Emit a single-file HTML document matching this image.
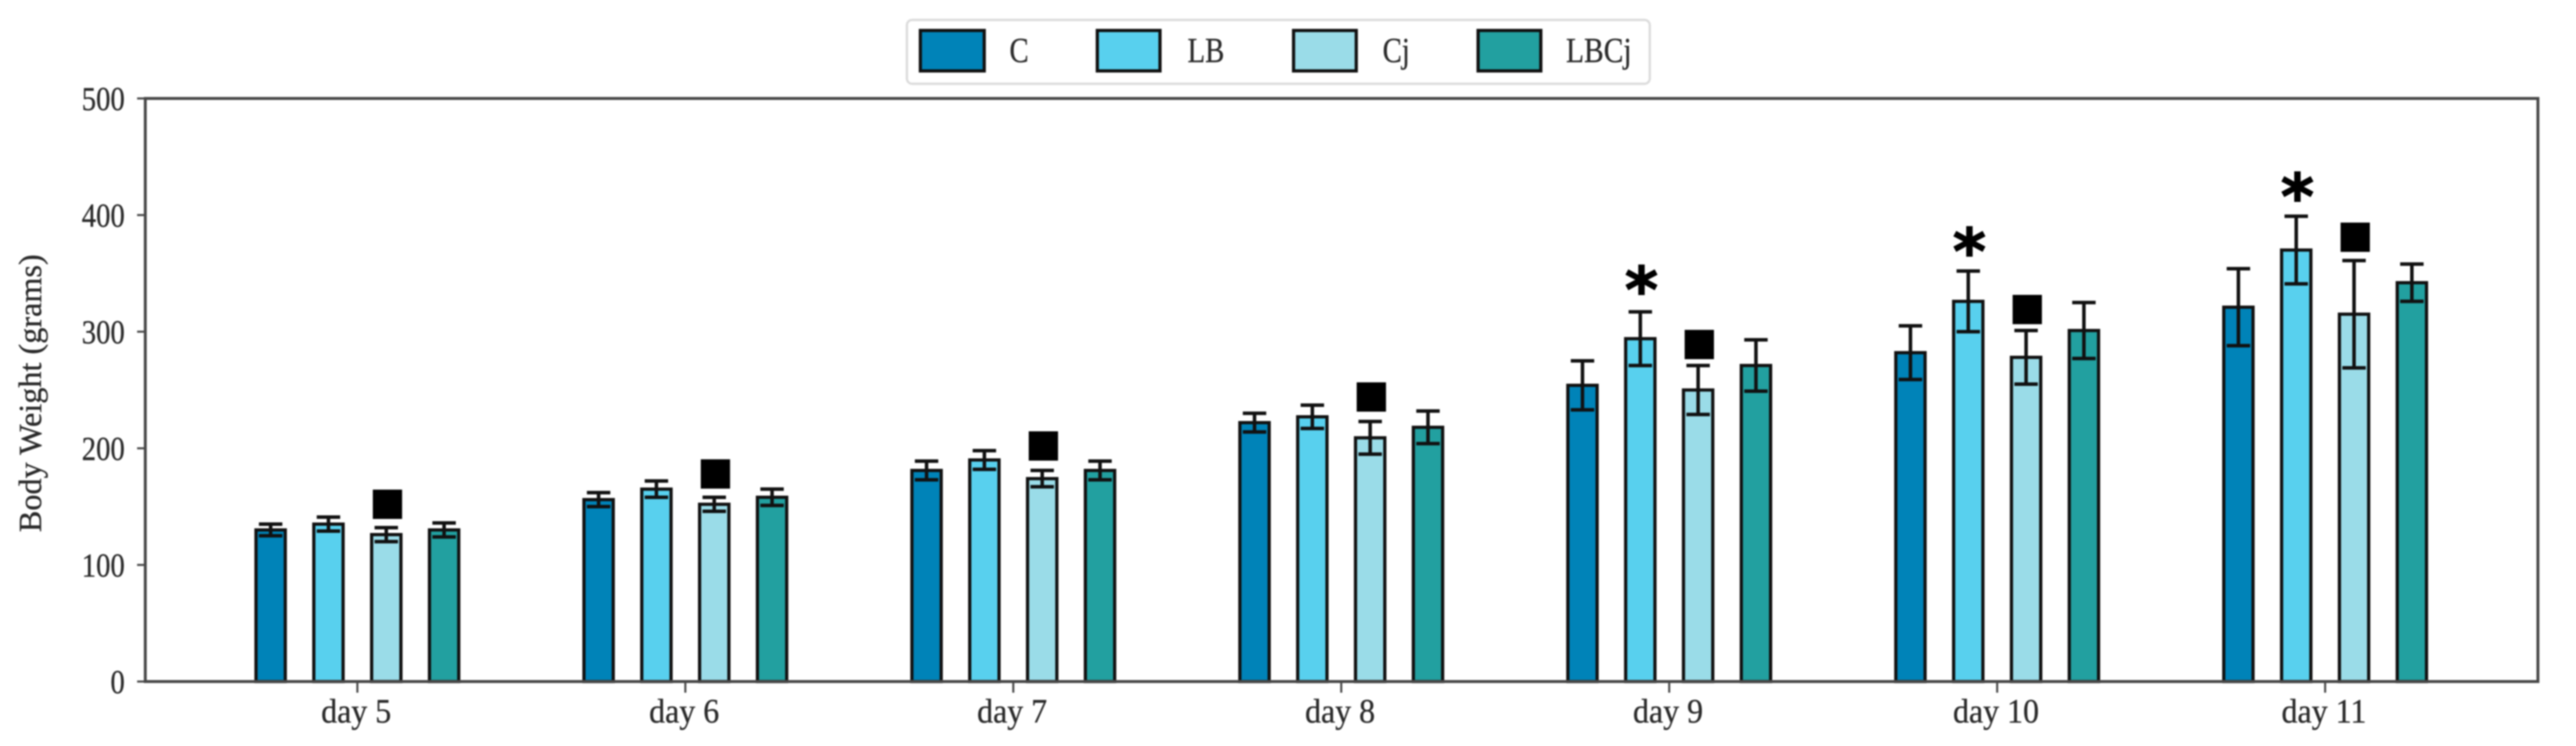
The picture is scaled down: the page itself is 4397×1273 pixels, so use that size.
<!DOCTYPE html>
<html lang="en">
<head>
<meta charset="utf-8">
<title>Body Weight by Day</title>
<style>
  html, body { margin: 0; padding: 0; background: #fff; }
  svg { display: block; filter: blur(1.3px); }
  text { font-family: "Liberation Serif", serif; fill: #2a2a2a; stroke: #2a2a2a; stroke-width: 0.5px; }
</style>
</head>
<body>
<svg id="chart" xmlns="http://www.w3.org/2000/svg" width="4397" height="1273" viewBox="0 0 4397 1273">
  <rect x="0" y="0" width="4397" height="1273" fill="#ffffff"/>
  <g id="marks"></g>
  <g id="axes"></g>
  <text transform="translate(70,671) rotate(-90)" text-anchor="middle" font-size="55">Body Weight (grams)</text>
  <g>
    <rect x="1548" y="34" width="1268" height="109" rx="9" fill="#fff" stroke="#dcdcdc" stroke-width="4"/>
    <rect x="1571" y="52" width="109" height="69" fill="#0083B8" stroke="#111" stroke-width="5.5"/>
    <text transform="translate(1723,106) scale(0.82,1)" font-size="60">C</text>
    <rect x="1873" y="52" width="107" height="69" fill="#58D0EE" stroke="#111" stroke-width="5.5"/>
    <text transform="translate(2027,106) scale(0.82,1)" font-size="60">LB</text>
    <rect x="2208" y="52" width="107" height="69" fill="#9ADCE8" stroke="#111" stroke-width="5.5"/>
    <text transform="translate(2360,106) scale(0.82,1)" font-size="60">Cj</text>
    <rect x="2523" y="52" width="107" height="69" fill="#22A0A0" stroke="#111" stroke-width="5.5"/>
    <text transform="translate(2673,106) scale(0.84,1)" font-size="60">LBCj</text>
  </g>
</svg>
<script>
const dayLabels = ["day 5", "day 6", "day 7", "day 8", "day 9", "day 10", "day 11"];
const seriesNames = ["c", "lb", "cj", "lbcj"];
const seriesColors = ["#0083B8", "#58D0EE", "#9ADCE8", "#22A0A0"];
const valuesC = [130, 156, 181, 222, 254, 282, 321];
const valuesLB = [135, 165, 190, 227, 294, 326, 370];
const valuesCj = [126, 152, 174, 209, 250, 278, 315];
const valuesLBCj = [130, 158, 181, 218, 271, 301, 342];
const errorsC = [5, 6, 8, 8, 21, 23, 33];
const errorsLB = [6, 7, 8, 10, 23, 26, 29];
const errorsCj = [6, 6, 7, 14, 21, 23, 46];
const errorsLBCj = [6, 7, 8, 14, 22, 24, 16];
const squareMarkerValues = [152, 178, 202, 244, 289, 319, 381];
const starMarkerValues = [null, null, null, null, 348, 381, 428];
const yTickLabels = [0, 100, 200, 300, 400, 500];

const allValues = [valuesC, valuesLB, valuesCj, valuesLBCj];
const allErrors = [errorsC, errorsLB, errorsCj, errorsLBCj];

const SVG_NS = "http://www.w3.org/2000/svg";
const plotLeft = 248, plotRight = 4332, plotTop = 168, plotBottom = 1163;
const yMax = 500;
const firstTickX = 610, tickStep = 559.8, seriesStep = 98.7, barWidth = 50, capHalf = 20;

function yScale(v) { return plotBottom - (v / yMax) * (plotBottom - plotTop); }
function xScale(i) { return firstTickX + i * tickStep; }
function barCenter(i, s) { return xScale(i) + (s - 1.5) * seriesStep; }

function make(tag, attrs, parent) {
  const el = document.createElementNS(SVG_NS, tag);
  for (const k in attrs) el.setAttribute(k, attrs[k]);
  parent.appendChild(el);
  return el;
}

const marks = document.getElementById("marks");
const axes = document.getElementById("axes");

allValues.forEach(function (values, s) {
  values.forEach(function (v, i) {
    const cx = barCenter(i, s);
    const bar = make("rect", { x: cx - barWidth / 2, y: yScale(v), width: barWidth, height: plotBottom - yScale(v), fill: seriesColors[s], stroke: "#111", "stroke-width": 5.5 }, marks);
    
    
    const err = allErrors[s][i];
    const hi = yScale(v + err), lo = yScale(v - err);
    const d = "M" + cx + " " + hi + "V" + lo + "M" + (cx - capHalf) + " " + hi + "H" + (cx + capHalf) + "M" + (cx - capHalf) + " " + lo + "H" + (cx + capHalf);
    const eb = make("path", { d: d, fill: "none", stroke: "#111", "stroke-width": 6 }, marks);
    
    
  });
});

squareMarkerValues.forEach(function (v, i) {
  const size = 50;
  const cx = barCenter(i, 2) + 2;
  const sq = make("rect", { x: cx - size / 2, y: yScale(v) - size / 2, width: size, height: size, fill: "#000" }, marks);
  
  
});

starMarkerValues.forEach(function (v, i) {
  if (v === null) return;
  const star = make("text", { x: barCenter(i, 1) + 2, y: yScale(v) + 62, "text-anchor": "middle", "font-size": 108, "font-weight": "bold", style: "font-family:'DejaVu Sans',sans-serif;fill:#000;stroke:#000;stroke-width:2px" }, marks);
  star.textContent = "*";
  
  
});

const frame = make("rect", { x: plotLeft, y: plotTop, width: plotRight - plotLeft, height: plotBottom - plotTop, fill: "none", stroke: "#484848", "stroke-width": 5 }, axes);



yTickLabels.forEach(function (t) {
  const y = yScale(t);
  const tick = make("line", { x1: plotLeft - 14, x2: plotLeft, y1: y, y2: y, stroke: "#484848", "stroke-width": 3.5 }, axes);
  
  
  const label = make("text", { transform: "translate(213," + (y + 20) + ") scale(0.86,1)", "text-anchor": "end", "font-size": 57 }, axes);
  label.textContent = t;
  
  
});

dayLabels.forEach(function (name, i) {
  const x = xScale(i);
  const tick = make("line", { x1: x, x2: x, y1: plotBottom, y2: plotBottom + 19, stroke: "#484848", "stroke-width": 3.5 }, axes);
  
  
  const label = make("text", { transform: "translate(" + (x - 2) + ",1233) scale(0.94,1)", "text-anchor": "middle", "font-size": 58 }, axes);
  label.textContent = name;
  
  
});
</script>
</body>
</html>
